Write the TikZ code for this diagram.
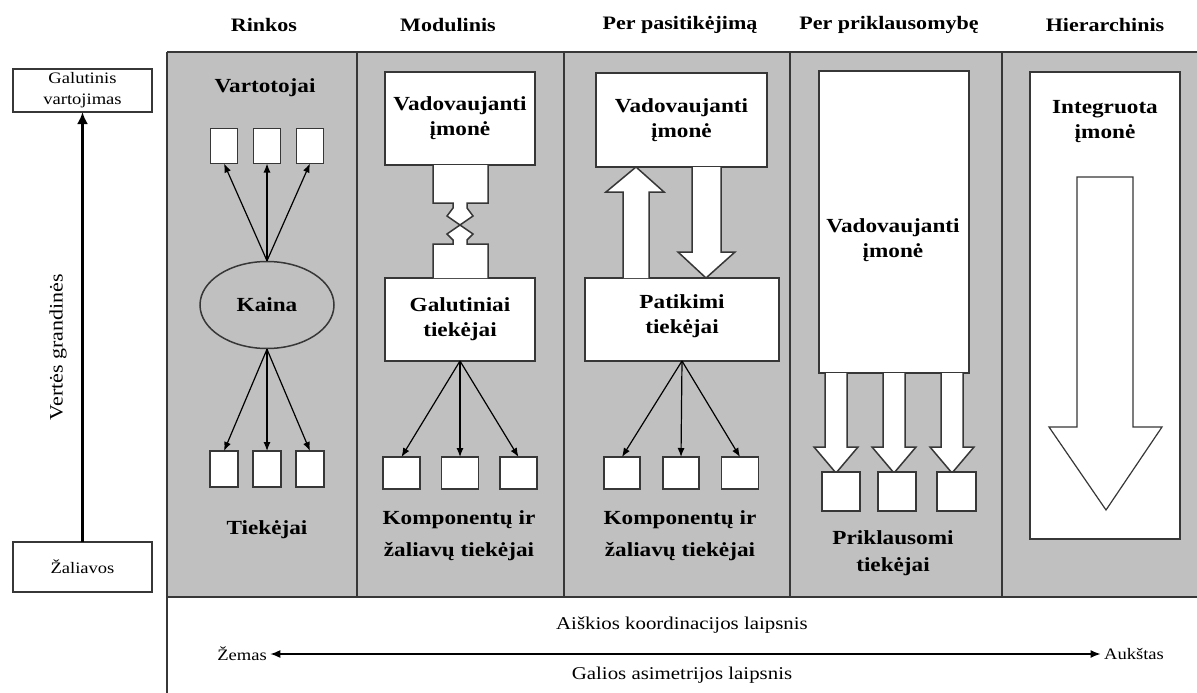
\documentclass[tikz,border=0pt]{standalone}
\usepackage{fontspec}
\setmainfont{Liberation Serif}
\newfontfamily\labfont[FakeStretch=1.16]{Liberation Serif}
\usetikzlibrary{shapes.geometric,arrows.meta}

\definecolor{panelgray}{RGB}{192,192,192}
\definecolor{edge}{RGB}{55,55,55}

\tikzset{
  heading/.style={font=\labfont\bfseries\fontsize{19}{23}\selectfont},
  inlabel/.style={font=\labfont\bfseries\fontsize{20}{25}\selectfont, align=center},
  plainlab/.style={font=\labfont\fontsize{16}{21}\selectfont, align=center},
  widelab/.style={font=\labfont\fontsize{18}{21}\selectfont, align=center},
  whitebox/.style={draw=edge, line width=1.5pt, fill=white, inner sep=0pt, outer sep=0pt},
  conn/.style={-{Latex[length=9pt,width=7pt]}, line width=1.2pt, black},
  blockarrow/.style={draw=edge, line width=1.5pt, fill=white, line join=miter},
  divider/.style={draw=edge, line width=2pt}
}

\begin{document}
\begin{tikzpicture}[x=1pt,y=-1pt]
\useasboundingbox (0,0) rectangle (1197,693);

% grey panel with its column dividers
\fill[panelgray] (167,52) rectangle (1197,597);
\draw[divider] (167,52) -- (1197,52);
\draw[divider] (167,597) -- (1197,597);
\draw[divider] (167,52) -- (167,693);
\foreach \x in {357,564,790,1002} \draw[divider] (\x,52) -- (\x,597);

% column headings
\node[heading] (h1) at (264,25) {Rinkos};
\node[heading] (h2) at (448,25) {Modulinis};
\node[heading] (h3) at (680,25) {Per pasitikėjimą};
\node[heading] (h4) at (889,25) {Per priklausomybę};
\node[heading] (h5) at (1105,25) {Hierarchinis};

% value chain axis on the left
\node[whitebox, plainlab, minimum width=139pt, minimum height=43pt] (final) at (82.5,90.5) {Galutinis\\vartojimas};
\node[whitebox, plainlab, minimum width=139pt, minimum height=50pt] (raw) at (82.5,567) {Žaliavos};
\draw[line width=3pt, -{Latex[length=12pt,width=11pt]}] (raw.north) -- (final.south);
\node[widelab, font=\labfont\fontsize{19}{21}\selectfont, rotate=90] (chain) at (58,347) {Vertės grandinės};

% column 1: market
\node[inlabel] (cons) at (265,88) {Vartotojai};
\node[whitebox, minimum width=27pt, minimum height=35pt] (c1) at (224,146) {};
\node[whitebox, minimum width=27pt, minimum height=35pt] (c2) at (267,146) {};
\node[whitebox, minimum width=27pt, minimum height=35pt] (c3) at (310,146) {};
\node[draw=edge, line width=1.5pt, ellipse, inner sep=0pt, minimum width=134pt, minimum height=87pt, inlabel] (kaina) at (267,305) {Kaina};
\node[whitebox, minimum width=28pt, minimum height=36pt] (s1) at (224,469) {};
\node[whitebox, minimum width=28pt, minimum height=36pt] (s2) at (267,469) {};
\node[whitebox, minimum width=28pt, minimum height=36pt] (s3) at (310,469) {};
\node[inlabel] (supp1) at (267,530) {Tiekėjai};
\foreach \i in {1,2,3} {
  \draw[conn] (kaina.north) -- (c\i.south);
  \draw[conn] (kaina.south) -- (s\i.north);
}

% column 2: modular
\node[whitebox, inlabel, minimum width=150pt, minimum height=93pt] (lead2) at (460,118.5) {Vadovaujanti\\įmonė};
\node[whitebox, inlabel, minimum width=150pt, minimum height=83pt] (gal) at (460,319.5) {Galutiniai\\tiekėjai};
\filldraw[blockarrow] (433,165) -- (433,203) -- (453,203) -- (453,208) -- (447,216) -- (460,225)
  -- (473,216) -- (467,208) -- (467,203) -- (488,203) -- (488,165);
\filldraw[blockarrow] (433,278) -- (433,244) -- (453,244) -- (453,240) -- (447,234) -- (460,225)
  -- (473,234) -- (467,240) -- (467,244) -- (488,244) -- (488,278);
\node[whitebox, minimum width=37pt, minimum height=32pt] (m1) at (401.5,473) {};
\node[whitebox, minimum width=37pt, minimum height=32pt] (m2) at (460,473) {};
\node[whitebox, minimum width=37pt, minimum height=32pt] (m3) at (518.5,473) {};
\foreach \i in {1,2,3} \draw[conn] (gal.south) -- (m\i.north);
\node[inlabel, anchor=base] (comp2a) at (459,524) {Komponentų ir};
\node[inlabel, anchor=base] (comp2b) at (459,556) {žaliavų tiekėjai};

% column 3: trust
\node[whitebox, inlabel, minimum width=171pt, minimum height=94pt] (lead3) at (681.5,120) {Vadovaujanti\\įmonė};
\node[whitebox, inlabel, minimum width=194pt, minimum height=83pt, text depth=10pt] (patik) at (682,319.5) {Patikimi\\tiekėjai};
\filldraw[blockarrow] (623,278) -- (623,192) -- (606,192) -- (636,167) -- (664,192) -- (649,192) -- (649,278);
\filldraw[blockarrow] (692,167) -- (692,252) -- (678,252) -- (706,278) -- (735,252) -- (721,252) -- (721,167);
\node[whitebox, minimum width=36pt, minimum height=32pt] (p1) at (622,473) {};
\node[whitebox, minimum width=36pt, minimum height=32pt] (p2) at (681,473) {};
\node[whitebox, minimum width=37pt, minimum height=32pt] (p3) at (740,473) {};
\foreach \i in {1,2,3} \draw[conn] (patik.south) -- (p\i.north);
\node[inlabel, anchor=base] (comp3a) at (680,524) {Komponentų ir};
\node[inlabel, anchor=base] (comp3b) at (680,556) {žaliavų tiekėjai};

% column 4: dependency
\node[whitebox, minimum width=150pt, minimum height=302pt] (lead4) at (894,222) {};
\node[inlabel] (lead4txt) at (893,240) {Vadovaujanti\\įmonė};
\foreach \c in {836,894,952} {
  \filldraw[blockarrow] ({\c-11},373) -- ({\c-11},447) -- ({\c-22},447) -- (\c,473)
    -- ({\c+22},447) -- ({\c+11},447) -- ({\c+11},373);
}
\node[whitebox, minimum width=38pt, minimum height=39pt] (d1) at (841,491.5) {};
\node[whitebox, minimum width=38pt, minimum height=39pt] (d2) at (897,491.5) {};
\node[whitebox, minimum width=39pt, minimum height=39pt] (d3) at (956.5,491.5) {};
\node[inlabel, anchor=base] (dep1) at (893,544) {Priklausomi};
\node[inlabel, anchor=base] (dep2) at (893,571) {tiekėjai};

% column 5: hierarchy
\node[whitebox, minimum width=150pt, minimum height=467pt] (integ) at (1105,305.5) {};
\node[inlabel] (integtxt) at (1105,122) {Integruota\\įmonė};
\filldraw[blockarrow, line width=1.2pt] (1077,177) -- (1077,427) -- (1049,427) -- (1106,510)
  -- (1162,427) -- (1133,427) -- (1133,177) -- cycle;

% coordination scale
\node[plainlab] (low) at (242,654) {Žemas};
\node[plainlab] (high) at (1134,654) {Aukštas};
\draw[line width=1.5pt, {Latex[length=10pt,width=8pt]}-{Latex[length=10pt,width=8pt]}] (low.east) -- (high.west);
\node[widelab] (coord) at (682,625) {Aiškios koordinacijos laipsnis};
\node[widelab] (power) at (682,675) {Galios asimetrijos laipsnis};
\end{tikzpicture}
\end{document}
